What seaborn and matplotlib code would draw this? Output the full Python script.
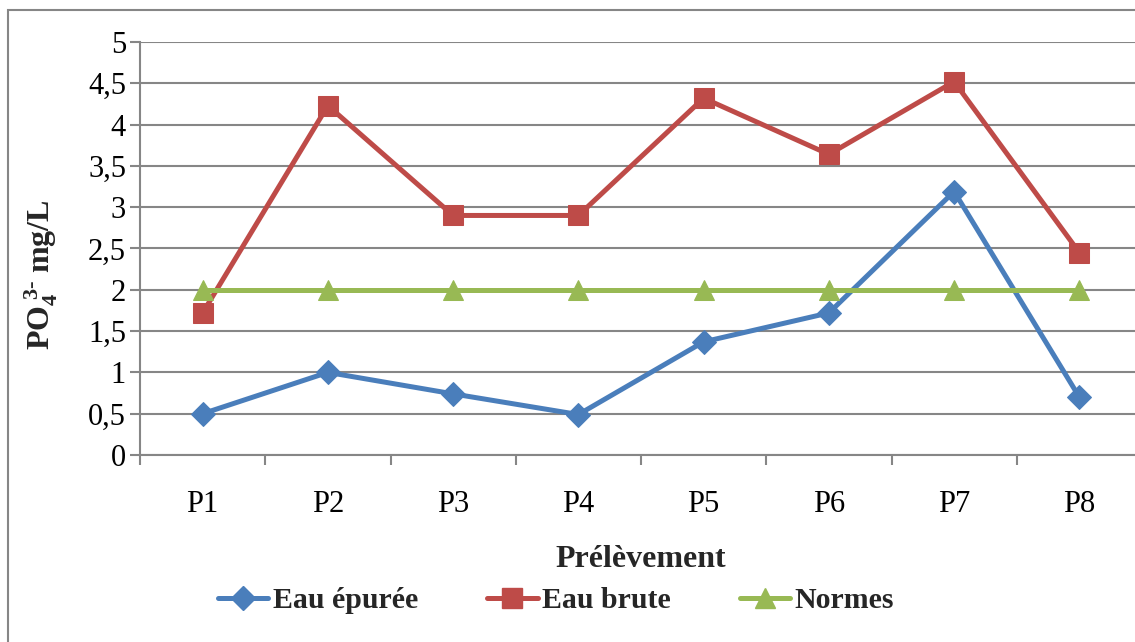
import numpy as np
import pandas as pd
import matplotlib
matplotlib.use("Agg")
import matplotlib.pyplot as plt
import seaborn as sns
from matplotlib.patches import Rectangle
from matplotlib.lines import Line2D

categories = ["P1", "P2", "P3", "P4", "P5", "P6", "P7", "P8"]
eau_epuree = [0.50, 1.00, 0.74, 0.49, 1.37, 1.72, 3.19, 0.70]
eau_brute = [1.72, 4.23, 2.90, 2.90, 4.32, 3.64, 4.52, 2.45]
normes = [2, 2, 2, 2, 2, 2, 2, 2]
series_names = ["Eau épurée", "Eau brute", "Normes"]
yticks = [0, 0.5, 1, 1.5, 2, 2.5, 3, 3.5, 4, 4.5, 5]
ytick_labels = ["0", "0,5", "1", "1,5", "2", "2,5", "3", "3,5", "4", "4,5", "5"]

sns.set_theme(style="white")
plt.rcParams["font.family"] = ["Liberation Serif", "DejaVu Serif"]
plt.rcParams["mathtext.fontset"] = "custom"
plt.rcParams["mathtext.rm"] = "Liberation Serif"
plt.rcParams["mathtext.bf"] = "Liberation Serif:bold"
plt.rcParams["mathtext.it"] = "Liberation Serif:italic"

df = pd.DataFrame({
    "Prélèvement": categories * 3,
    "value": eau_epuree + eau_brute + normes,
    "serie": [series_names[0]] * 8 + [series_names[1]] * 8 + [series_names[2]] * 8,
})
df["x"] = df["Prélèvement"].map({c: i for i, c in enumerate(categories)})

colors = {"Eau épurée": "#4A7EBB", "Eau brute": "#BE4B48", "Normes": "#98B954"}
markers = {"Eau épurée": "D", "Eau brute": "s", "Normes": "^"}
msizes = {"Eau épurée": 12, "Eau brute": 14, "Normes": 14}
LW = 3.6

W, H = 1135, 642
fig = plt.figure(figsize=(W / 100, H / 100), dpi=100)
ax = fig.add_axes([140 / W, 1 - 455 / H, 1002 / W, 413 / H])

for name in series_names:
    sub = df[df["serie"] == name]
    sns.lineplot(data=sub, x="x", y="value", ax=ax, color=colors[name], lw=LW,
                 marker=markers[name], markersize=msizes[name],
                 markeredgecolor=colors[name], legend=False, zorder=3)

ax.set_xlim(-0.5, 7.5)
ax.set_ylim(0, 5)
ax.set_yticks(yticks)
ax.set_yticklabels(ytick_labels, fontsize=22)
ax.set_xticks(range(len(categories)))
ax.set_xticklabels(categories, fontsize=22)
ax.set_xticks(np.arange(-0.5, 8.0, 1.0), minor=True)
ax.tick_params(axis="x", which="major", length=0, pad=25, colors="black", bottom=True)
ax.tick_params(axis="x", which="minor", length=7, width=1.5, color="#868686", direction="out", bottom=True)
ax.tick_params(axis="y", which="major", length=7, width=1.5, color="#868686", direction="out",
               pad=3, left=True, labelcolor="black")

ax.grid(axis="y", color="#868686", lw=1.5)
ax.set_axisbelow(True)
for s in ["top", "right"]:
    ax.spines[s].set_visible(False)
for s in ["left", "bottom"]:
    ax.spines[s].set_color("#868686")
    ax.spines[s].set_linewidth(1.5)

ax.set_xlabel("Prélèvement", fontsize=23, fontweight="bold", labelpad=19)
ax.set_ylabel(r"$\mathbf{PO_4^{\ 3\text{-}}\ mg/L}$", fontsize=23)
ax.yaxis.set_label_coords((60 - 140) / 1002, 0.5 - 26 / 413)

# outer chart border
fig.patches.append(Rectangle((8 / W, -0.1), 1.2, 1 - 10 / H + 0.1, transform=fig.transFigure,
                             fill=False, edgecolor="#868686", lw=1.5, zorder=0))

handles = [Line2D([0], [0], color=colors[n], lw=LW, marker=markers[n],
                  markersize=msizes[n], markeredgecolor=colors[n]) for n in series_names]
leg = fig.legend(handles, series_names, loc="center", bbox_to_anchor=(556 / W, 1 - 601 / H),
                 ncol=3, frameon=False, handlelength=1.7, columnspacing=2.3, handletextpad=0.15,
                 prop={"family": "Liberation Serif", "weight": "bold", "size": 21.5})

fig.savefig("out.png", dpi=100)
